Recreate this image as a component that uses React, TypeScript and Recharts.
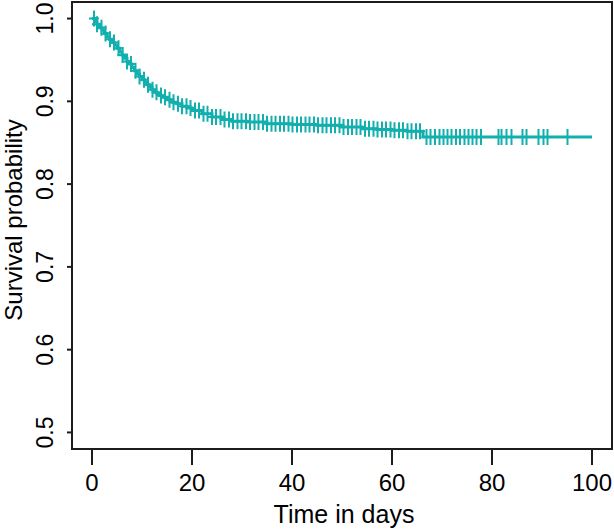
import { ComposedChart, Line, Scatter, XAxis, YAxis, ReferenceArea } from 'recharts'

// Kaplan-Meier step curve
const eventTimes = [
  0, 0.5, 1, 1.5, 2, 2.5, 3, 3.5, 4, 4.5, 5, 5.5, 6, 6.5, 7, 7.5, 8, 8.5, 9, 9.5, 10, 10.5, 11, 11.5, 12,
  12.5, 13, 13.5, 14, 15, 16, 17, 18, 19, 20, 22, 24, 26, 28, 31, 35, 40, 45, 50, 54, 57, 60, 63, 66.2, 100,
]
const survival = [
  1.0, 0.996, 0.993, 0.989, 0.986, 0.982, 0.978, 0.975, 0.971, 0.968, 0.964, 0.96, 0.956, 0.952, 0.948,
  0.945, 0.941, 0.937, 0.933, 0.93, 0.926, 0.923, 0.92, 0.917, 0.914, 0.911, 0.909, 0.907, 0.905, 0.902,
  0.899, 0.897, 0.894, 0.892, 0.889, 0.885, 0.881, 0.878, 0.876, 0.875, 0.873, 0.872, 0.871, 0.869, 0.867,
  0.866, 0.865, 0.864, 0.857, 0.857,
]

// censoring marks (+)
const censorTimes = [
  0.4, 1.0, 1.9, 2.7, 3.6, 4.4, 5.3, 6.1, 7.0, 7.8, 8.7, 9.5, 10.4, 11.2, 12.1, 12.9, 13.8, 14.6, 15.5,
  16.3, 17.2, 18.0, 18.9, 19.7, 20.6, 21.4, 22.3, 23.1, 24.0, 24.8, 25.7, 26.5, 27.4, 28.2, 29.1, 29.9,
  30.8, 31.6, 32.5, 33.3, 34.2, 35.0, 35.9, 36.7, 37.6, 38.4, 39.3, 40.1, 41.0, 41.8, 42.7, 43.5, 44.4,
  45.2, 46.1, 46.9, 47.8, 48.6, 49.5, 50.3, 51.2, 52.0, 52.9, 53.7, 54.6, 55.4, 56.3, 57.1, 58.0, 58.8,
  59.7, 60.5, 61.4, 62.2, 63.1, 63.9, 64.8, 65.6, 66.9, 67.7, 68.6, 69.5, 70.3, 71.1, 71.9, 72.8, 73.6,
  74.5, 75.3, 76.1, 76.9, 77.8, 81.3, 81.9, 82.9, 83.9, 86.1, 86.9, 89.3, 90.3, 91.1, 95.1,
]

const xTicks = [0, 20, 40, 60, 80, 100]
const yTicks = [0.5, 0.6, 0.7, 0.8, 0.9, 1.0]

const TEAL = '#12afaf'
const INK = '#1c1c1c'
const FONT = '"Liberation Sans", Arial, sans-serif'

const curve = eventTimes.map((t, i) => ({ t, s: survival[i] }))

// value of the step function at time t
function stepAt(t: number) {
  let s = survival[0]
  for (let i = 0; i < eventTimes.length; i++) {
    if (eventTimes[i] <= t) s = survival[i]
  }
  return s
}
const censored = censorTimes.map((t) => ({ t, s: stepAt(t) }))

const Plus = (props: any) => {
  const { cx, cy } = props
  return (
    <path
      d={`M${cx - 5},${cy}h10M${cx},${cy - 8}v16`}
      stroke={TEAL}
      strokeWidth={2}
      fill="none"
    />
  )
}

const XTick = (props: any) => {
  const { x, y, payload } = props
  return (
    <text x={x} y={y + 26} textAnchor="middle" fontSize={24} fontFamily={FONT} fill="#000">
      {payload.value}
    </text>
  )
}

const YTick = (props: any) => {
  const { y, payload } = props
  return (
    <text
      x={53}
      y={y}
      transform={`rotate(-90 53 ${y})`}
      textAnchor="middle"
      fontSize={23}
      fontFamily={FONT}
      fill="#000"
    >
      {payload.value.toFixed(1)}
    </text>
  )
}

export default function App() {
  return (
    <div style={{ position: 'absolute', left: 0, top: 0, background: '#fff' }}>
      <ComposedChart width={614} height={530} margin={{ top: 2, right: 2, bottom: 0, left: 0 }}>
        <XAxis
          type="number"
          dataKey="t"
          domain={[-4, 104]}
          ticks={xTicks}
          allowDataOverflow
          axisLine={false}
          tickSize={16}
          tickMargin={0}
          tickLine={{ stroke: INK, strokeWidth: 2 }}
          tick={<XTick />}
          height={81}
          label={{
            content: () => (
              <text x={344} y={523} textAnchor="middle" fontSize={25} fontFamily={FONT} fill="#000">
                Time in days
              </text>
            ),
          }}
        />
        <YAxis
          type="number"
          dataKey="s"
          domain={[0.48, 1.02]}
          ticks={yTicks}
          allowDataOverflow
          axisLine={false}
          tickSize={5}
          tickMargin={0}
          tickLine={{ stroke: INK, strokeWidth: 2 }}
          tick={<YTick />}
          width={72}
          label={{
            content: () => (
              <text
                x={22}
                y={220}
                transform="rotate(-90 22 220)"
                textAnchor="middle"
                fontSize={24}
                fontFamily={FONT}
                fill="#000"
              >
                Survival probability
              </text>
            ),
          }}
        />
        <ReferenceArea x1={-4} x2={104} y1={0.48} y2={1.02} fill="none" stroke={INK} strokeWidth={2} />
        <Line
          data={curve}
          dataKey="s"
          type="stepAfter"
          stroke={TEAL}
          strokeWidth={3}
          dot={false}
          activeDot={false}
          isAnimationActive={false}
        />
        <Scatter data={censored} dataKey="s" shape={<Plus />} isAnimationActive={false} />
      </ComposedChart>
    </div>
  )
}
